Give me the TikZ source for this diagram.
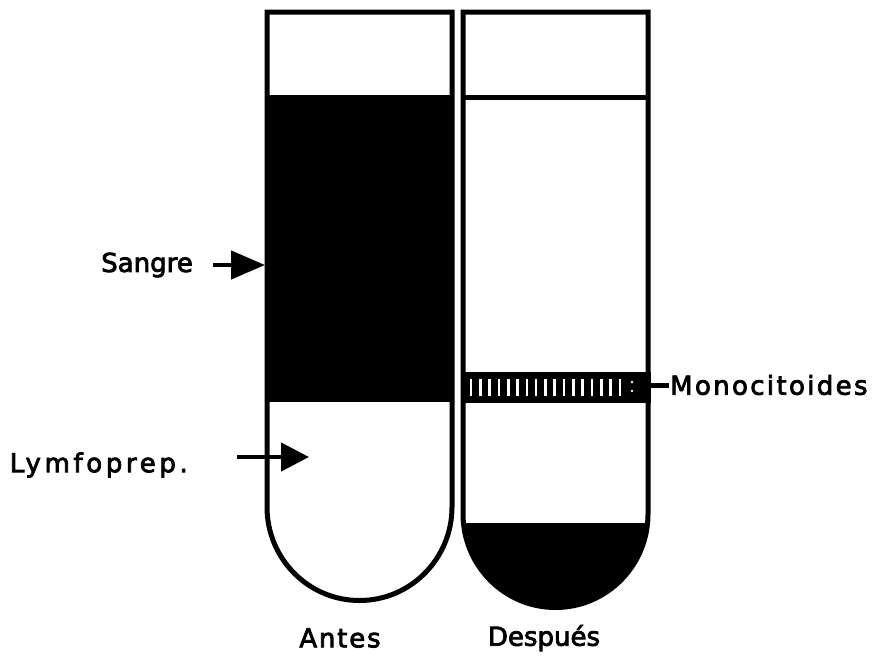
\documentclass[tikz,border=0pt]{standalone}
\usepackage{fontspec}
\setmainfont{DejaVu Sans}[FakeBold=3]
\usetikzlibrary{arrows.meta}
\begin{document}
\begin{tikzpicture}[x=1pt,y=-1pt,
  wall/.style={line width=5pt},
  lbl/.style={font=\fontsize{26}{30}\selectfont, inner sep=0pt},
  pointer/.style={line width=4.5pt},
  hatch/.style={white, line width=2.6pt}]
\useasboundingbox (0,0) rectangle (880,662);
% left tube (Antes)
\fill[black] (267,95) rectangle (452,402);
\draw[wall] (267,12) -- (267,507) arc[start angle=180,end angle=0,x radius=92.5,y radius=93.5] -- (452,12) -- cycle;
% right tube (Despues)
\begin{scope}
  \clip (463,12) -- (463,514) arc[start angle=180,end angle=0,x radius=92.5,y radius=93.5] -- (648,12) -- cycle;
  \fill[black] (463,523) rectangle (648,620);
\end{scope}
\fill[black] (463,372) rectangle (651,403);
\foreach \i in {0,...,16}{
  \draw[hatch] ({471+\i*9.3},379) -- ({471+\i*9.3},396);
}
\fill[white] (632,382) circle[radius=1.4];
\fill[white] (632,391) circle[radius=1.4];
\draw[wall] (463,12) -- (463,514) arc[start angle=180,end angle=0,x radius=92.5,y radius=93.5] -- (648,12) -- cycle;
\draw[wall] (463,97) -- (648,97);
% labels
\node[lbl, anchor=east] (sangre) at (193,265) {Sangre};
\node[lbl, anchor=east] (lymfo) at (188,465) {\addfontfeature{LetterSpace=14}Lymfoprep.};
\node[lbl, anchor=west] (mono) at (670,385) {\addfontfeature{LetterSpace=9}Monocitoides};
\node[lbl] (antes) at (340,638) {\addfontfeature{LetterSpace=7}Antes};
\node[lbl] (despues) at (544,638) {Después};
\coordinate (sangreTip) at (265,265);
\coordinate (lymfoTip) at (309,457);
\coordinate (monoEnd) at (648,385);
\draw[pointer, -{Triangle[length=34pt,width=28pt]}] ([xshift=20pt]sangre.east |- sangreTip) -- (sangreTip);
\draw[pointer, -{Triangle[length=28pt,width=28pt]}] ([xshift=49pt]lymfo.east |- lymfoTip) -- (lymfoTip);
\draw[line width=5pt] (monoEnd) -- ([xshift=-1pt]mono.west);
\end{tikzpicture}
\end{document}
